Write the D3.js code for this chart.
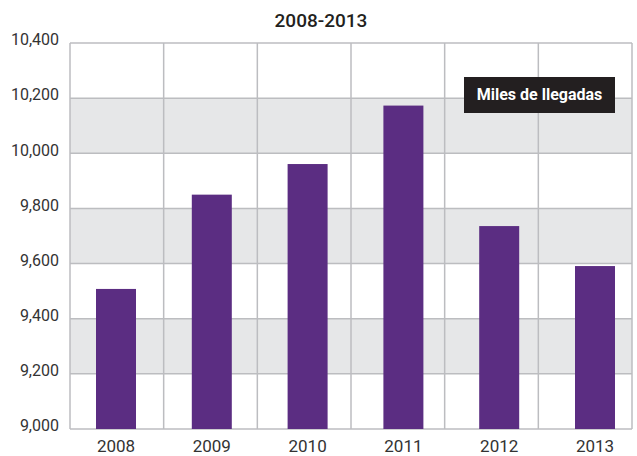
<!doctype html>
<html lang="es">
<head>
<meta charset="UTF-8">
<title>Miles de llegadas 2008-2013</title>
<script src="https://d3js.org/d3.v7.min.js"></script>
<style>
body { margin: 0; background-color: #ffffff; font-family: "Roboto", sans-serif; }
svg { display: block; }
.tick-label { font-size: 16px; fill: #333333; }
.year-label { font-size: 17px; fill: #333333; }
.grid { stroke: #bcbdc0; stroke-width: 1.5; }
</style>
</head>
<body>
<div id="plot"></div>
<script>

var years = ["2008", "2009", "2010", "2011", "2012", "2013"];
var arrivals = [9508, 9850, 9961, 10173, 9736, 9591];
var yTicks = [9000, 9200, 9400, 9600, 9800, 10000, 10200, 10400];

var width = 637;
var height = 456;
var plotLeft = 70, plotRight = 632, plotTop = 43, plotBottom = 429;

var svg = d3.select("#plot").append("svg")
	.attr("width", width)
	.attr("height", height);

var yScale = d3.scaleLinear().domain([9000, 10400]).range([plotBottom, plotTop]);
var gridX = d3.scaleBand().domain(years).range([plotLeft, plotRight]);
var barX = d3.scalePoint().domain(years).range([116, 595]);
var barWidth = 40;
var fmt = d3.format(",");

// alternating grey bands
for (var i = 0; i < yTicks.length - 1; i++) {
	if (i % 2 === 1) {
		svg.append("rect")
		.attr("x", plotLeft)
		.attr("y", yScale(yTicks[i + 1]))
		.attr("width", plotRight - plotLeft)
		.attr("height", yScale(yTicks[i]) - yScale(yTicks[i + 1]))
		.style("fill", "#e6e7e8");
	}
}

// horizontal grid
yTicks.forEach(function (t) {
	svg.append("line").attr("class", "grid")
	.attr("x1", plotLeft).attr("x2", plotRight)
	.attr("y1", yScale(t)).attr("y2", yScale(t));

	svg.append("text").attr("class", "tick-label")
	.attr("x", plotLeft - 11)
	.attr("y", yScale(t) - 2)
	.attr("text-anchor", "end")
	.attr("dominant-baseline", "middle")
	.text(fmt(t));
});

// vertical grid
years.forEach(function (y) {
	svg.append("line").attr("class", "grid")
	.attr("x1", gridX(y)).attr("x2", gridX(y))
	.attr("y1", plotTop).attr("y2", plotBottom);
});
svg.append("line").attr("class", "grid")
	.attr("x1", plotRight).attr("x2", plotRight)
	.attr("y1", plotTop).attr("y2", plotBottom);

// bars
years.forEach(function (y, i) {
	svg.append("rect")
	.attr("x", barX(y) - barWidth / 2)
	.attr("y", yScale(arrivals[i]))
	.attr("width", barWidth)
	.attr("height", plotBottom - yScale(arrivals[i]))
	.style("fill", "#5b2d82");

	svg.append("text").attr("class", "year-label")
	.attr("x", barX(y))
	.attr("y", 452)
	.attr("text-anchor", "middle")
	.text(y);
});

// subtitle
svg.append("text")
	.attr("x", 321)
	.attr("y", 27)
	.attr("text-anchor", "middle")
	.style("font-size", "19px")
	.style("font-weight", "500")
	.style("fill", "#231f20")
	.text("2008-2013");

// legend box
svg.append("rect")
	.attr("x", 464).attr("y", 77)
	.attr("width", 151).attr("height", 36)
	.style("fill", "#231f20");

svg.append("text")
	.attr("x", 539.5).attr("y", 96)
	.attr("text-anchor", "middle")
	.attr("dominant-baseline", "middle")
	.style("font-size", "16px")
	.style("font-weight", "bold")
	.style("fill", "#ffffff")
	.text("Miles de llegadas");

</script>
</body>
</html>
